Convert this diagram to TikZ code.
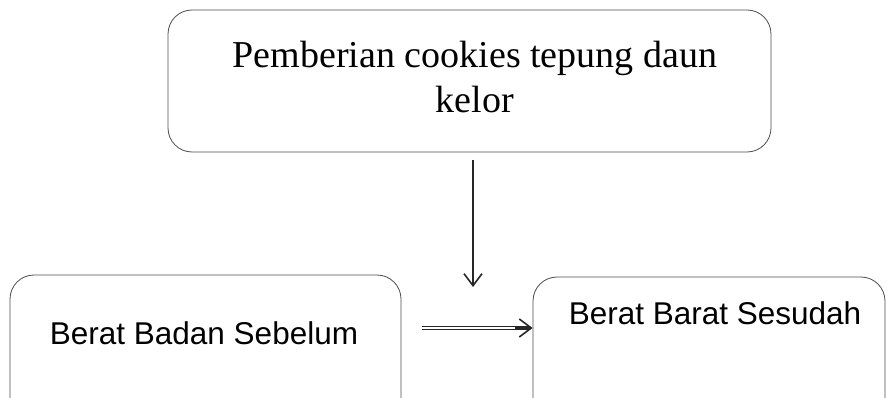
\documentclass[tikz,border=0pt]{standalone}
\usepackage{fontspec}
\setmainfont{Liberation Serif}
\newfontfamily\arialf{Liberation Sans}
\usetikzlibrary{arrows.meta}
\begin{document}
\begin{tikzpicture}[x=1pt,y=-1pt,
  box/.style={draw=black!70, line width=0.8pt, rounded corners=24pt, inner sep=0pt},
  conn/.style={draw=black!85, line width=1.1pt},
  tip/.style={-{Straight Barb[length=12pt,width=18pt,line width=1.6pt]}}]
\useasboundingbox (0,0) rectangle (892,398);
% top box
\node[box, minimum width=603pt, minimum height=142pt] (top) at (469.5,81) {};
\node[font=\fontsize{38}{45}\selectfont, align=center] (toptext) at (475,77)
  {Pemberian cookies tepung daun\\kelor};
% bottom left box (cut off)
\node[box, minimum width=391pt, minimum height=150pt] (left) at (205.5,350) {};
\node[font=\arialf\fontsize{31.5}{36}\selectfont] (lefttext) at (204,333) {Berat Badan Sebelum};
% bottom right box (cut off)
\node[box, minimum width=352pt, minimum height=150pt] (right) at (709,352) {};
\node[font=\arialf\fontsize{31.5}{36}\selectfont] (righttext) at (715,313) {Berat Barat Sesudah};
% vertical arrow
\coordinate (vs) at (473,160);
\coordinate (ve) at (473,287);
\draw[conn, tip] (vs) -- (ve);
% horizontal double arrow
\coordinate (hs) at (422,328);
\coordinate (hm) at (515,328);
\coordinate (he) at (right.west |- 0,328);
\draw[conn, line width=0.9pt] (422,326.3) -- (529,326.3);
\draw[conn, line width=0.9pt] (422,329.8) -- (529,329.8);
\draw[conn, tip] (hm) -- (he);
\end{tikzpicture}
\end{document}
